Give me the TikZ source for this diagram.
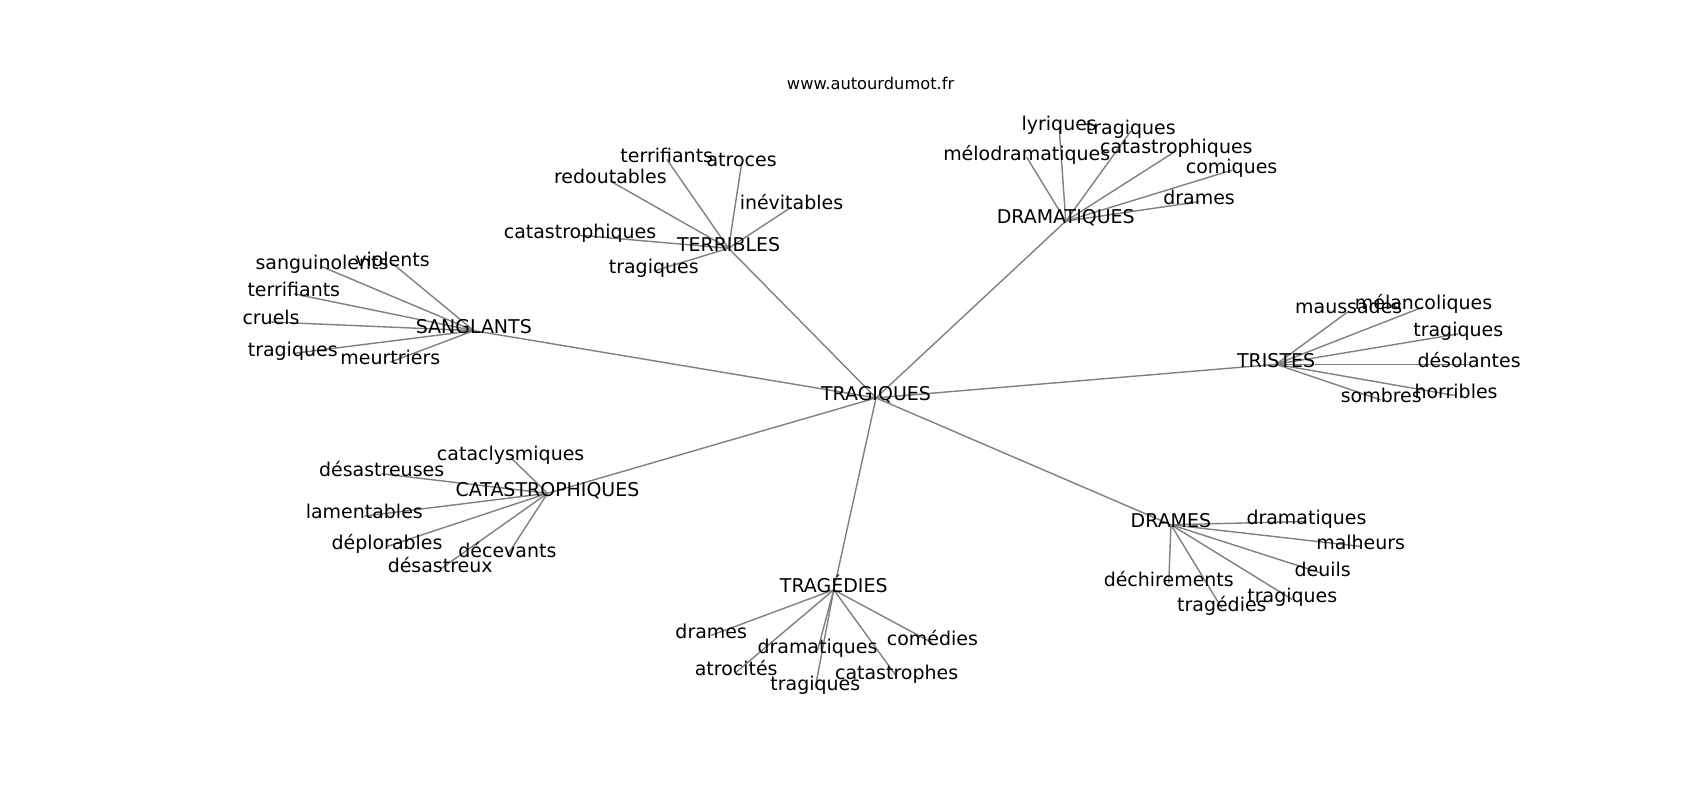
\documentclass[tikz,border=0pt]{standalone}
\usepackage{fontspec}
\setmainfont{DejaVu Sans}
\usetikzlibrary{backgrounds}

\begin{document}
\begin{tikzpicture}[x=1pt, y=-1pt,
    word/.style={inner sep=0pt, text height=0.76em, text depth=0.24em,
        font=\fontsize{17.5}{21}\selectfont},
    edge/.style={draw=gray, line width=1.3pt}]
    \useasboundingbox (0,-4) rectangle (1568,734);

    \node[font=\fontsize{15}{18}\selectfont] (site) at (803,73) {www.autourdumot.fr};

    % centre and hubs
    \node[word] (tragiques) at (808,363) {TRAGIQUES};
    \node[word] (sanglants) at (437,301) {SANGLANTS};
    \node[word] (terribles) at (672,225) {TERRIBLES};
    \node[word] (dramatiques) at (983,200) {DRAMATIQUES};
    \node[word] (tristes) at (1177,332) {TRISTES};
    \node[word] (drames) at (1080,480) {DRAMES};
    \node[word] (tragedies) at (769,540) {TRAGÉDIES};
    \node[word] (catastrophiques) at (505,451) {CATASTROPHIQUES};

    % SANGLANTS
    \node[word] (sa1) at (297,242) {sanguinolents};
    \node[word] (sa2) at (362,239) {violents};
    \node[word] (sa3) at (271,267) {terrifiants};
    \node[word] (sa4) at (250,293) {cruels};
    \node[word] (sa5) at (270,322) {tragiques};
    \node[word] (sa6) at (360,330) {meurtriers};

    % TERRIBLES
    \node[word] (te1) at (615,143) {terrifiants};
    \node[word] (te2) at (684,147) {atroces};
    \node[word] (te3) at (563,163) {redoutables};
    \node[word] (te4) at (730,187) {inévitables};
    \node[word] (te5) at (535,213) {catastrophiques};
    \node[word] (te6) at (603,246) {tragiques};

    % DRAMATIQUES
    \node[word] (dr1) at (977,114) {lyriques};
    \node[word] (dr2) at (1043,117) {tragiques};
    \node[word] (dr3) at (947,141) {mélodramatiques};
    \node[word] (dr4) at (1085,135) {catastrophiques};
    \node[word] (dr5) at (1136,153) {comiques};
    \node[word] (dr6) at (1106,182) {drames};

    % TRISTES
    \node[word] (tr1) at (1244,283) {maussades};
    \node[word] (tr2) at (1313,279) {mélancoliques};
    \node[word] (tr3) at (1345,304) {tragiques};
    \node[word] (tr4) at (1355,332) {désolantes};
    \node[word] (tr5) at (1343,361) {horribles};
    \node[word] (tr6) at (1274,365) {sombres};

    % DRAMES
    \node[word] (dm1) at (1205,477) {dramatiques};
    \node[word] (dm2) at (1255,500) {malheurs};
    \node[word] (dm3) at (1220,525) {deuils};
    \node[word] (dm4) at (1192,549) {tragiques};
    \node[word] (dm5) at (1127,557) {tragédies};
    \node[word] (dm6) at (1078,534) {déchirements};

    % TRAGEDIES
    \node[word] (tg1) at (656,582) {drames};
    \node[word] (tg2) at (860,589) {comédies};
    \node[word] (tg3) at (754,596) {dramatiques};
    \node[word] (tg4) at (679,616) {atrocités};
    \node[word] (tg5) at (827,620) {catastrophes};
    \node[word] (tg6) at (752,630) {tragiques};

    % CATASTROPHIQUES
    \node[word] (ca1) at (471,418) {cataclysmiques};
    \node[word] (ca2) at (352,433) {désastreuses};
    \node[word] (ca3) at (336,472) {lamentables};
    \node[word] (ca4) at (357,500) {déplorables};
    \node[word] (ca5) at (468,508) {décevants};
    \node[word] (ca6) at (406,521) {désastreux};

    \begin{scope}[on background layer]
        \foreach \hub in {sanglants,terribles,dramatiques,tristes,drames,tragedies,catastrophiques}
            \draw[edge] (tragiques.center) -- (\hub.center);
        \foreach \hub/\pre in {sanglants/sa,terribles/te,dramatiques/dr,tristes/tr,drames/dm,tragedies/tg,catastrophiques/ca}
            \foreach \i in {1,...,6}
                \draw[edge] (\hub.center) -- (\pre\i.center);
    \end{scope}
\end{tikzpicture}
\end{document}
